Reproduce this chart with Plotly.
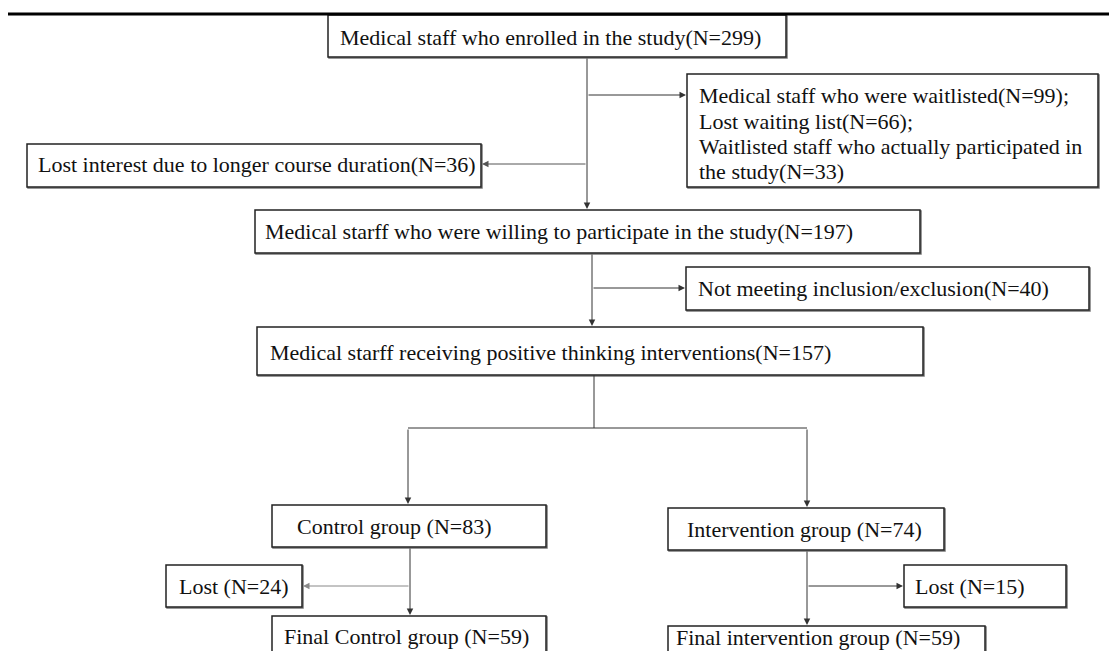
import plotly.graph_objects as go

# ---------------- data ----------------
stage_names = [
    "enrolled", "waitlist", "lost_interest", "willing", "not_meeting",
    "receiving", "control", "intervention", "lost_control", "lost_intervention",
    "final_control", "final_intervention",
]
stage_texts = [
    ["Medical staff who enrolled in the study(N={})"],
    ["Medical staff who were waitlisted(N={});", "Lost waiting list(N={});",
     "Waitlisted staff who actually participated in", "the study(N={})"],
    ["Lost interest due to longer course duration(N={})"],
    ["Medical starff who were willing to participate in the study(N={})"],
    ["Not meeting inclusion/exclusion(N={})"],
    ["Medical starff receiving positive thinking interventions(N={})"],
    ["Control group (N={})"],
    ["Intervention group (N={})"],
    ["Lost (N={})"],
    ["Lost (N={})"],
    ["Final Control group (N={})"],
    ["Final intervention group (N={})"],
]
stage_counts = [[299], [99, 66, None, 33], [36], [197], [40], [157], [83], [74], [24], [15], [59], [59]]

# ---------------- layout (page pixel positions, y downwards) ----------------
box_pos = {
    "enrolled": (328, 786, 15, 57, 338, [37]),
    "waitlist": (687, 1098, 74, 187, 697, [95, 121, 146, 171]),
    "lost_interest": (27, 481, 144, 187, 36, [164]),
    "willing": (255, 920, 210, 253, 263, [231]),
    "not_meeting": (686, 1089, 267, 310, 696, [288]),
    "receiving": (257, 923, 327, 375, 268, [352]),
    "control": (272, 546, 505, 547, 295, [526]),
    "intervention": (668, 944, 508, 550, 685, [529]),
    "lost_control": (166, 302, 565, 607, 177, [586]),
    "lost_intervention": (904, 1066, 565, 607, 913, [586]),
    "final_control": (272, 546, 616, 690, 282, [636]),
    "final_intervention": (668, 985, 626, 690, 674, [637]),
}
arrows = [  # (tail_x, tail_y, head_x, head_y, colour)
    (587, 57, 587, 209, "#333"),
    (587, 95, 686, 95, "#333"),
    (587, 164, 482, 164, "#555"),
    (592, 253, 592, 326, "#333"),
    (592, 288, 685, 288, "#333"),
    (408, 428, 408, 504, "#333"),
    (807, 428, 807, 507, "#333"),
    (410, 547, 410, 615, "#333"),
    (410, 586, 303, 586, "#888"),
    (807, 550, 807, 625, "#333"),
    (807, 586, 903, 586, "#333"),
]
plain_lines = [
    (594, 375, 594, 428),
    (408, 428, 807, 428),
]

# The page body has an 8px margin, so the figure is drawn 8px smaller and its
# axes are offset so that data units equal page pixels.
PAGE_W, PAGE_H, BODY_MARGIN = 1117, 651, 8
W, H = PAGE_W - BODY_MARGIN, PAGE_H - BODY_MARGIN

fig = go.Figure()
fig.add_trace(go.Scatter(x=[BODY_MARGIN, PAGE_W], y=[BODY_MARGIN, PAGE_H], mode="markers",
                         marker=dict(opacity=0), hoverinfo="skip", showlegend=False))

shapes = []
annotations = []
shapes.append(dict(type="line", x0=8, x1=PAGE_W, y0=14, y1=14, xref="x", yref="y",
                   line=dict(color="black", width=3)))

font = dict(family="Liberation Serif, Times New Roman, serif", size=22, color="#111")

for name, texts, counts in zip(stage_names, stage_texts, stage_counts):
    x0, x1, y0, y1, tx, tys = box_pos[name]
    # faint drop shadow on bottom/right edges
    shapes.append(dict(type="rect", x0=x0 + 1, x1=x1 + 1, y0=y0 + 1, y1=y1 + 1, xref="x", yref="y",
                       line=dict(color="#777", width=1.5), fillcolor="white", layer="below"))
    shapes.append(dict(type="rect", x0=x0, x1=x1, y0=y0, y1=y1, xref="x", yref="y",
                       line=dict(color="#222", width=1.5), fillcolor="white", layer="below"))
    for t, c, ty in zip(texts, counts, tys):
        label = t.format(c) if c is not None else t
        annotations.append(dict(x=tx, y=ty, xref="x", yref="y", text=label, showarrow=False,
                                xanchor="left", yanchor="middle", font=font))

for (x0, y0, x1, y1) in plain_lines:
    shapes.append(dict(type="line", x0=x0, x1=x1, y0=y0, y1=y1, xref="x", yref="y",
                       line=dict(color="#333", width=1)))

for (tx, ty, hx, hy, col) in arrows:
    annotations.append(dict(x=hx, y=hy, ax=tx, ay=ty, xref="x", yref="y", axref="x", ayref="y",
                            text="", showarrow=True, arrowhead=2, arrowsize=1.3, arrowwidth=1,
                            arrowcolor=col, standoff=0, startstandoff=0))

fig.update_layout(
    width=W, height=H, margin=dict(l=0, r=0, t=0, b=0),
    paper_bgcolor="white", plot_bgcolor="white",
    xaxis=dict(range=[BODY_MARGIN, PAGE_W], visible=False, fixedrange=True),
    yaxis=dict(range=[PAGE_H, BODY_MARGIN], visible=False, fixedrange=True),
    shapes=shapes, annotations=annotations, showlegend=False,
)
fig.write_html("out.html")
